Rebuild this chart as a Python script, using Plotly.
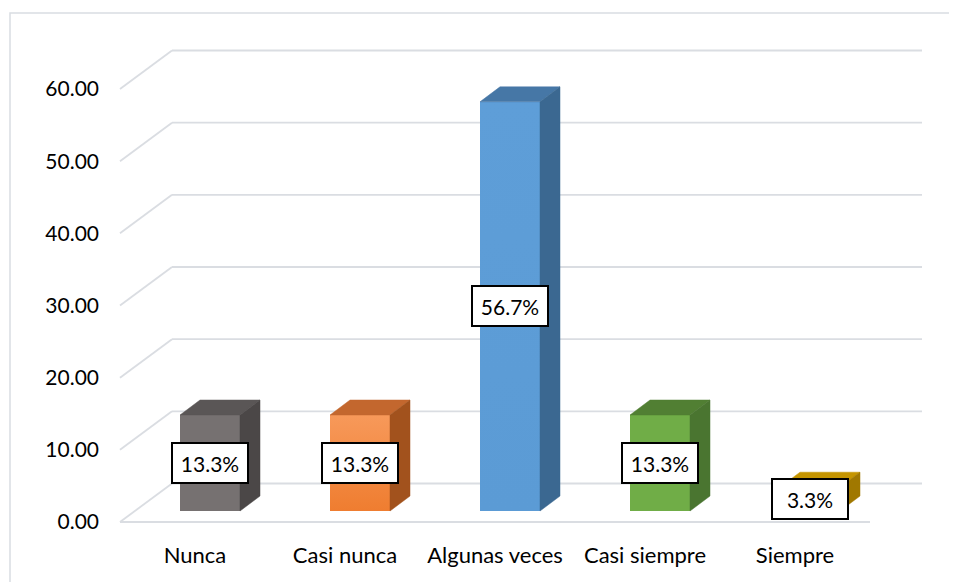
import plotly.graph_objects as go

categories = ["Nunca", "Casi nunca", "Algunas veces", "Casi siempre", "Siempre"]
values = [13.3, 13.3, 56.7, 13.3, 3.3]
labels = ["13.3%", "13.3%", "56.7%", "13.3%", "3.3%"]
yticks = [0, 10, 20, 30, 40, 50, 60]
yticktext = ["0.00", "10.00", "20.00", "30.00", "40.00", "50.00", "60.00"]

front_colors = ["#767171", "#ef7d30", "#5b9bd5", "#70ad47", "#bf9000"]
front_top_colors = ["#767171", "#f7995a", "#5e9ed8", "#70ad47", "#bf9000"]
top_colors = ["#5a5656", "#c3672e", "#4677a6", "#517f33", "#c59500"]
side_colors = ["#4b4747", "#a2521d", "#3b6891", "#4a7530", "#a07800"]

OFF = 8  # page body margin
W, H = 957 - OFF, 582 - OFF
L, R, T, B = 100 - OFF, 940 - OFF, 20 - OFF, 540 - OFF
PX_X = 150.0          # pixels per category
PX_Y = 433.0 / 60.0   # pixels per value unit
X0_PIX, Y0_PIX = 195.0 - OFF, 522.0 - OFF

xr = [(L - X0_PIX) / PX_X, (R - X0_PIX) / PX_X]
yr = [(Y0_PIX - B) / PX_Y, (Y0_PIX - T) / PX_Y]

# perspective depth of the wall/floor
DX = 52.0 / PX_X
DY = 38.5 / PX_Y
# bar placement in depth
BX0 = 15.0 / PX_X
BY0 = 11.0 / PX_Y
BDX = 20.0 / PX_X
BDY = 15.0 / PX_Y
HALF = 0.2
n = len(categories)

fig = go.Figure()

# gridlines (side wall diagonal + back wall horizontal), below traces
gl = dict(color="#dadde2", width=1.8)
for v in yticks:
    fig.add_shape(type="line", xref="x", yref="y", layer="below",
                  x0=-0.5, y0=v, x1=-0.5 + DX, y1=v + DY, line=gl)
    fig.add_shape(type="line", xref="x", yref="y", layer="below",
                  x0=-0.5 + DX, y0=v + DY, x1=n - 0.5 + DX, y1=v + DY, line=gl)
fig.add_shape(type="line", xref="x", yref="y", layer="below",
              x0=-0.5, y0=0, x1=n - 0.5, y1=0, line=gl)

# bar faces
for i, v in enumerate(values):
    xa = i + BX0 - HALF
    xb = i + BX0 + HALF
    yb = BY0
    yt = BY0 + v
    fig.add_trace(go.Scatter(
        x=[xa, xb, xb, xa, xa], y=[yb, yb, yt, yt, yb],
        fill="toself", fillcolor=front_colors[i], mode="lines",
        fillgradient=dict(type="vertical",
                          colorscale=[[0, front_colors[i]], [1, front_top_colors[i]]]),
        line=dict(width=0), hoverinfo="skip", showlegend=False))
    fig.add_trace(go.Scatter(
        x=[xa, xb, xb + BDX, xa + BDX, xa],
        y=[yt, yt, yt + BDY, yt + BDY, yt],
        fill="toself", fillcolor=top_colors[i], mode="lines",
        line=dict(width=0.5, color=top_colors[i]), hoverinfo="skip", showlegend=False))
    fig.add_trace(go.Scatter(
        x=[xb, xb, xb + BDX, xb + BDX, xb],
        y=[yb, yt, yt + BDY, yb + BDY, yb],
        fill="toself", fillcolor=side_colors[i], mode="lines",
        line=dict(width=0.5, color=side_colors[i]), hoverinfo="skip", showlegend=False))

# data labels
for i, v in enumerate(values):
    fig.add_annotation(x=i + BX0, y=BY0 + v / 2, text=labels[i], showarrow=False,
                       font=dict(family="Lato", size=21, color="#000000"),
                       bgcolor="white", bordercolor="black", borderwidth=2,
                       borderpad=1, width=72, height=36)

# chart border (top and left visible)
def px_to_paper_x(p):
    return (p - L) / (R - L)

def px_to_paper_y(p):
    return (B - p) / (B - T)

fig.add_shape(type="rect", xref="paper", yref="paper", layer="below",
              x0=px_to_paper_x(10 - OFF), x1=px_to_paper_x(990),
              y0=px_to_paper_y(620), y1=px_to_paper_y(13 - OFF),
              line=dict(color="#d9dde2", width=1.5), fillcolor="rgba(0,0,0,0)")

fig.update_layout(
    width=W, height=H,
    margin=dict(l=L, r=W - R, t=T, b=H - B),
    paper_bgcolor="white", plot_bgcolor="white",
    font=dict(family="Lato", size=21, color="#000000"),
    xaxis=dict(range=xr, showgrid=False, zeroline=False, showline=False,
               tickmode="array", tickvals=list(range(n)), ticktext=categories,
               ticks="", tickfont=dict(size=22)),
    yaxis=dict(range=yr, showgrid=False, zeroline=False, showline=False,
               tickmode="array", tickvals=yticks, ticktext=yticktext,
               ticks="", tickfont=dict(size=21)),
)

fig.write_html("out.html")
